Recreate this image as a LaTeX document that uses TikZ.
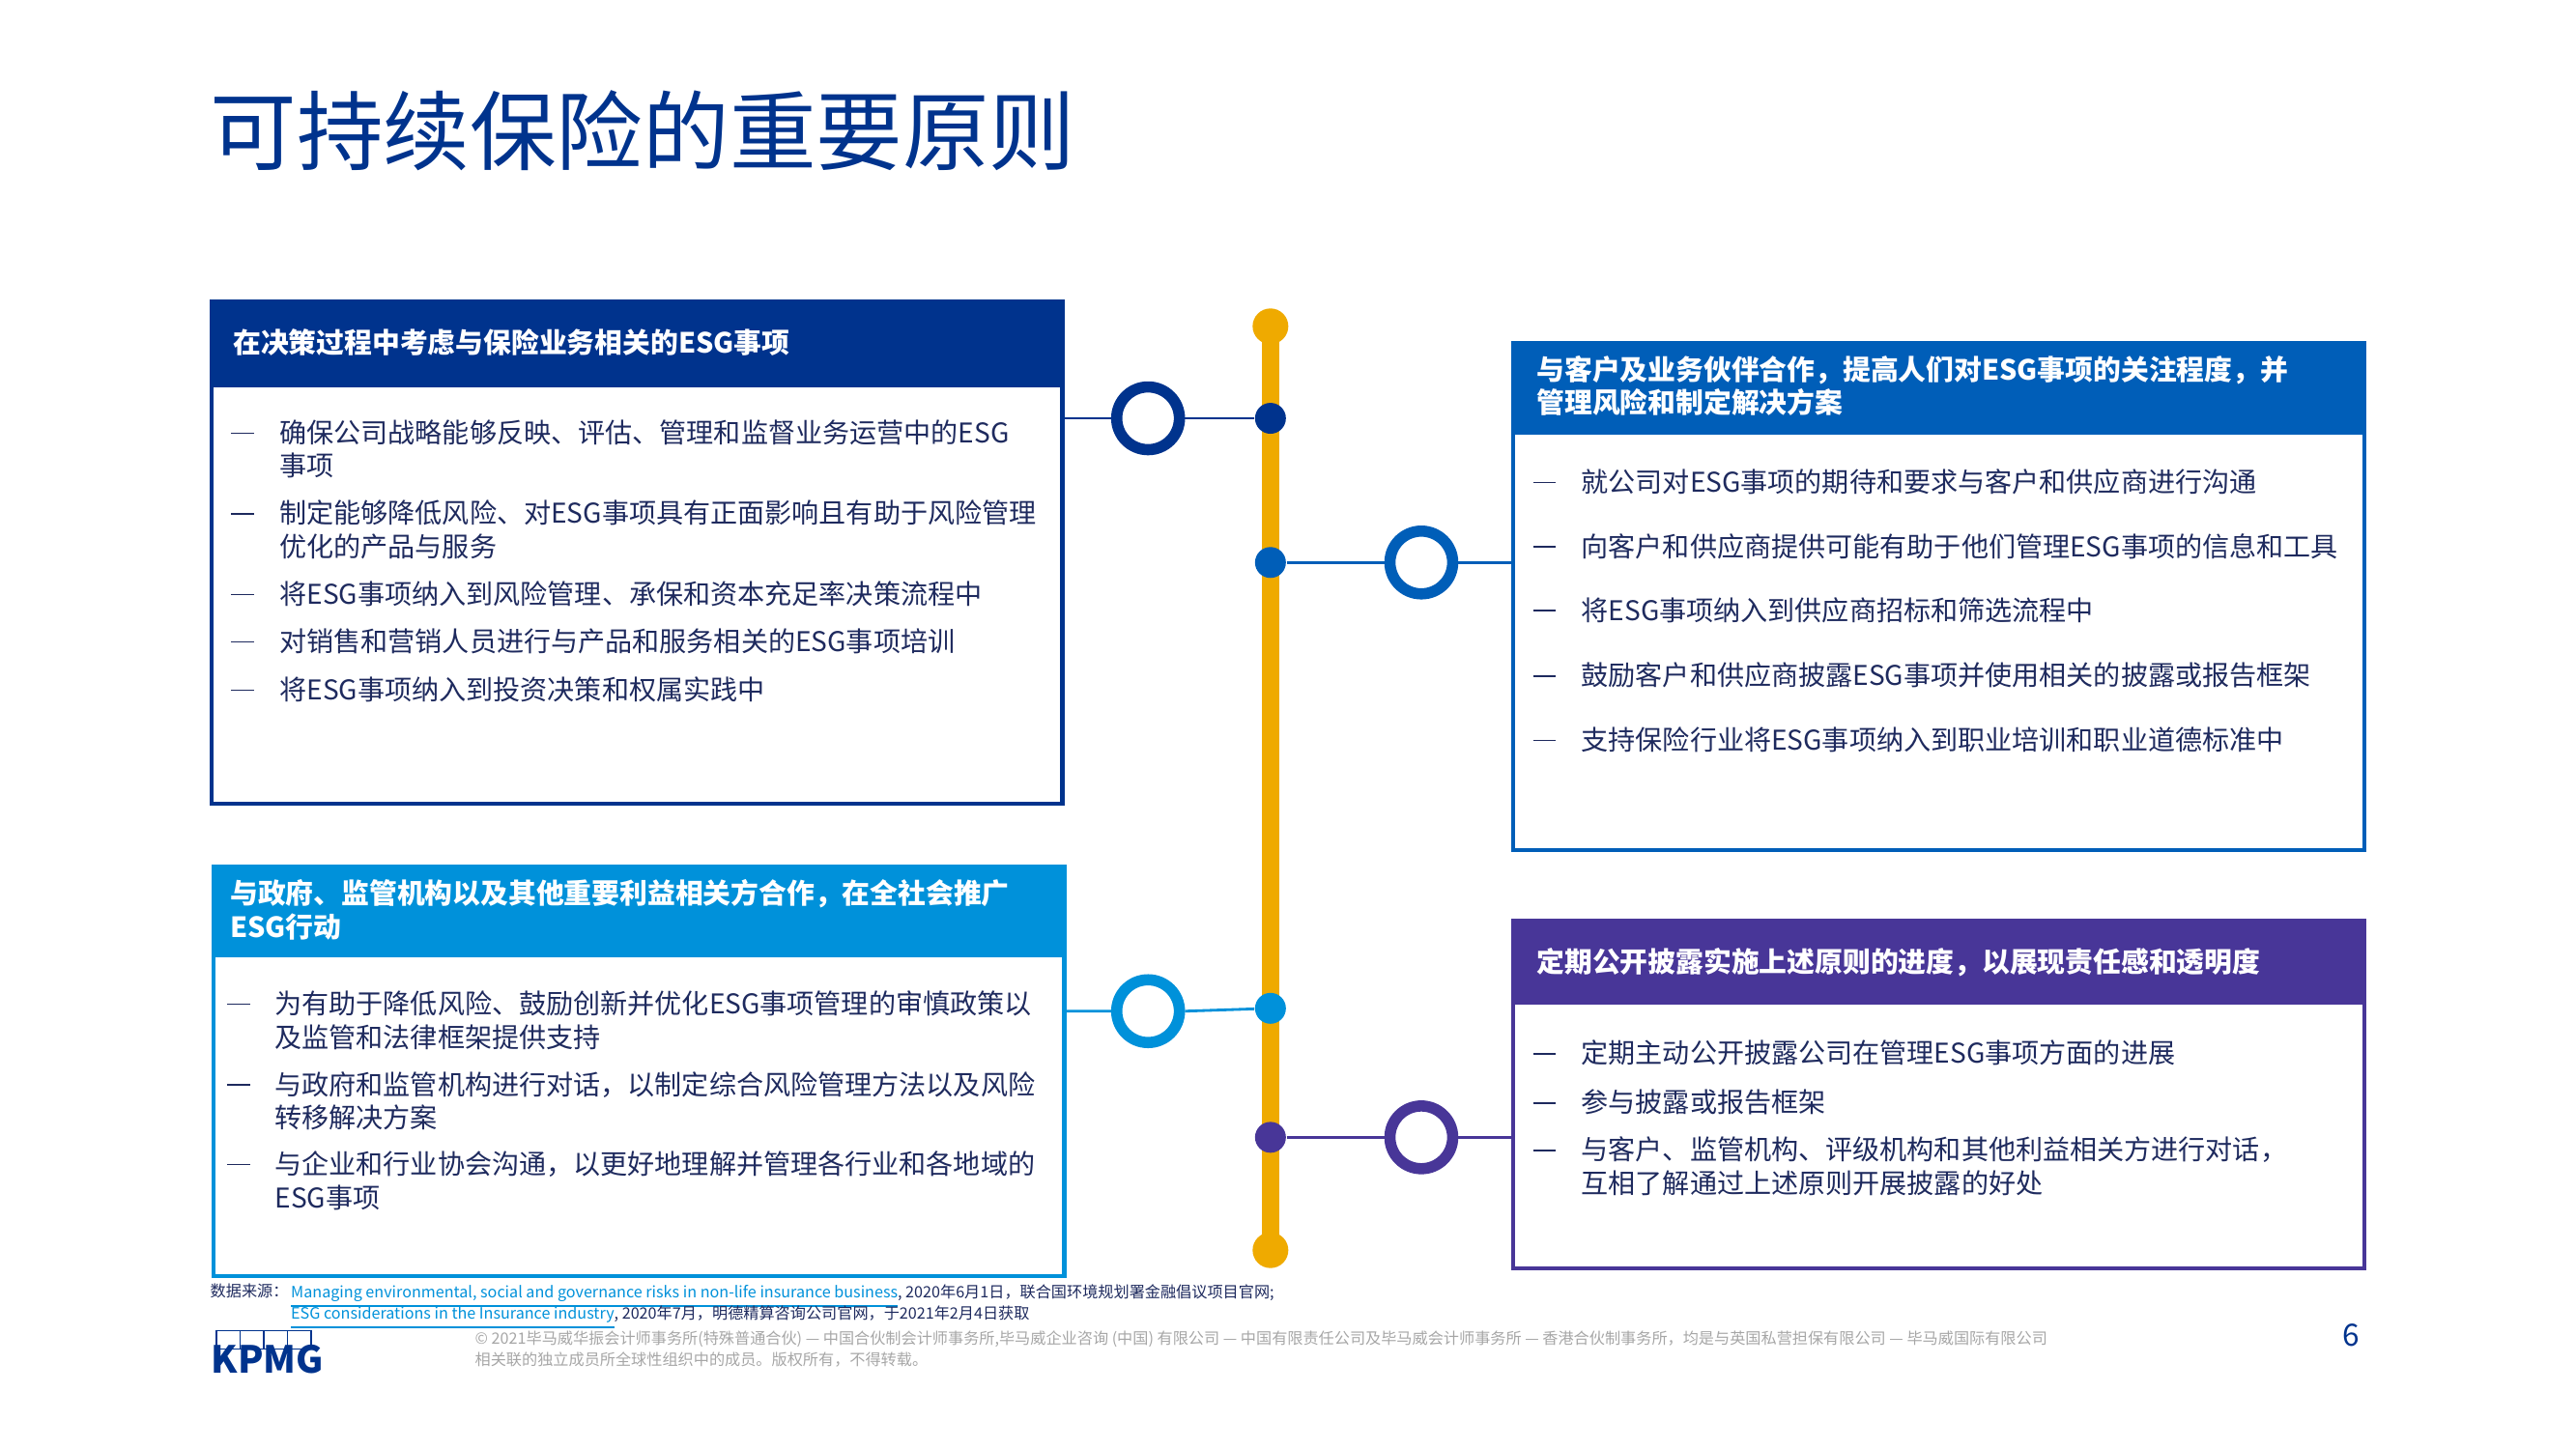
\documentclass[tikz,border=0pt]{standalone}
\usepackage{fontspec}
\setmainfont{Noto Sans CJK SC}
\usetikzlibrary{positioning}
\definecolor{kdark}{HTML}{00338D}
\definecolor{kmid}{HTML}{005EB8}
\definecolor{klight}{HTML}{0091DA}
\definecolor{kpurple}{HTML}{483698}
\definecolor{korange}{HTML}{EFAA00}
\definecolor{ktext}{HTML}{1E2A5E}
\newcommand{\footfont}{\fontsize{4.6}{6.3}\selectfont\lineskiplimit=-10pt\relax\lineskip=0pt\relax}
\tikzset{
  panel/.style={draw=#1, line width=1.2pt, minimum width=8.81cm, inner sep=0pt},
  head/.style={fill=#1, text=white, anchor=north west, minimum width=8.81cm, inner sep=0pt},
  htext/.style={anchor=west, text=white, font=\fontsize{8.2}{9.8}\selectfont\bfseries, align=left, inner sep=0pt},
  item/.style={anchor=north west, text=ktext, font=\fontsize{8}{9.8}\selectfont, align=left, inner sep=0pt},
  bullet/.style={anchor=north west, text=ktext, font=\fontsize{8}{9.8}\selectfont, inner sep=0pt},
  ring/.style={circle, draw=#1, line width=3.3pt, fill=white, minimum size=0.65cm, inner sep=0pt},
  dot/.style={circle, fill=#1, minimum size=0.32cm, inner sep=0pt},
  link/.style={draw=#1, line width=0.8pt},
  foot/.style={anchor=north west, font=\footfont, align=left, inner sep=0pt},
}
\newcommand{\dashmark}{\vphantom{事}\rule[0.32em]{0.85em}{0.5pt}}
\begin{document}
\begin{tikzpicture}[x=0.00982cm, y=-0.00982cm]
\useasboundingbox (0,0) rectangle (2715,1527);
% title
\node[anchor=west, text=kdark, font=\fontsize{25.5}{28}\selectfont, inner sep=0pt] (title) at (221,138) {可持续保险的重要原则};

% timeline
\draw[korange, line width=5pt] (1339,344) -- (1339,1318);
\node[dot=korange, minimum size=0.37cm] (top) at (1339,344) {};
\node[dot=korange, minimum size=0.37cm] (bottom) at (1339,1318) {};
\node[dot=kdark] (d1) at (1339,441) {};
\node[dot=kmid] (d2) at (1339,593) {};
\node[dot=klight] (d3) at (1339,1063) {};
\node[dot=kpurple] (d4) at (1339,1199) {};

% panels
\node[panel=kdark, minimum height=5.2cm, anchor=north west] (box1) at (221,316) {};
\node[head=kdark, minimum height=0.9cm] (h1) at (box1.north west) {};
\node[htext] (ht1) at (245,361) {在决策过程中考虑与保险业务相关的ESG事项};

\node[panel=klight, minimum height=4.25cm, anchor=north west] (box2) at (223,911) {};
\node[head=klight, minimum height=0.96cm] (h2) at (box2.north west) {};
\node[htext] (ht2) at (242,959) {与政府、监管机构以及其他重要利益相关方合作，在全社会推广\\ESG行动};

\node[panel=kmid, minimum height=5.26cm, anchor=north west] (box3) at (1593,359) {};
\node[head=kmid, minimum height=0.97cm] (h3) at (box3.north west) {};
\node[htext] (ht3) at (1619,407) {与客户及业务伙伴合作，提高人们对ESG事项的关注程度，并\\管理风险和制定解决方案};

\node[panel=kpurple, minimum height=3.61cm, anchor=north west] (box4) at (1593,968) {};
\node[head=kpurple, minimum height=0.89cm] (h4) at (box4.north west) {};
\node[htext] (ht4) at (1619,1014) {定期公开披露实施上述原则的进度，以展现责任感和透明度};

% rings and links
\node[ring=kdark] (r1) at (1210,441) {};
\node[ring=kmid] (r2) at (1498,593) {};
\node[ring=klight] (r3) at (1210,1066) {};
\node[ring=kpurple] (r4) at (1498,1199) {};
\draw[link=kdark] (box1.east |- r1) -- (r1.west) (r1.east) -- (d1);
\draw[link=kmid] (d2) -- (r2.west) (r2.east) -- (box3.west |- r2);
\draw[link=klight] (box2.east |- r3) -- (r3.west) (r3.east) -- (d3);
\draw[link=kpurple] (d4) -- (r4.west) (r4.east) -- (box4.west |- r4);

% items, box 1
\foreach \y/\t in {442/{确保公司战略能够反映、评估、管理和监督业务运营中的ESG\\事项},
                   527/{制定能够降低风险、对ESG事项具有正面影响且有助于风险管理\\优化的产品与服务},
                   612/{将ESG事项纳入到风险管理、承保和资本充足率决策流程中},
                   662/{对销售和营销人员进行与产品和服务相关的ESG事项培训},
                   713/{将ESG事项纳入到投资决策和权属实践中}}{
  \node[bullet] at (243,\y) {\dashmark};
  \node[item] at (294,\y) {\t};
}
% items, box 2
\foreach \y/\t in {1044/{为有助于降低风险、鼓励创新并优化ESG事项管理的审慎政策以\\及监管和法律框架提供支持},
                   1129/{与政府和监管机构进行对话，以制定综合风险管理方法以及风险\\转移解决方案},
                   1213/{与企业和行业协会沟通，以更好地理解并管理各行业和各地域的\\ESG事项}}{
  \node[bullet] at (239,\y) {\dashmark};
  \node[item] at (289,\y) {\t};
}
% items, box 3
\foreach \y/\t in {494/{就公司对ESG事项的期待和要求与客户和供应商进行沟通},
                   562/{向客户和供应商提供可能有助于他们管理ESG事项的信息和工具},
                   629/{将ESG事项纳入到供应商招标和筛选流程中},
                   698/{鼓励客户和供应商披露ESG事项并使用相关的披露或报告框架},
                   766/{支持保险行业将ESG事项纳入到职业培训和职业道德标准中}}{
  \node[bullet] at (1615,\y) {\dashmark};
  \node[item] at (1666,\y) {\t};
}
% items, box 4
\foreach \y/\t in {1096/{定期主动公开披露公司在管理ESG事项方面的进展},
                   1148/{参与披露或报告框架},
                   1198/{与客户、监管机构、评级机构和其他利益相关方进行对话，\\互相了解通过上述原则开展披露的好处}}{
  \node[bullet] at (1615,\y) {\dashmark};
  \node[item] at (1666,\y) {\t};
}

% footer
\node[foot, text=ktext] (src) at (221,1353) {数据来源：};
\node[foot, text=ktext] (srctext) at (306,1353) {\textcolor{klight}{\underline{Managing environmental, social and governance risks in non-life insurance business}}, 2020年6月1日，联合国环境规划署金融倡议项目官网;\\\textcolor{klight}{\underline{ESG considerations in the Insurance industry}}, 2020年7月，明德精算咨询公司官网，于2021年2月4日获取};
\node[foot, text=gray!70] (copy) at (500,1402) {© 2021毕马威华振会计师事务所(特殊普通合伙) — 中国合伙制会计师事务所,毕马威企业咨询 (中国) 有限公司 — 中国有限责任公司及毕马威会计师事务所 — 香港合伙制事务所，均是与英国私营担保有限公司 — 毕马威国际有限公司\\相关联的独立成员所全球性组织中的成员。版权所有，不得转载。};
\foreach \i in {0,1,2,3}
  \draw[kdark, line width=0.4pt] (228+\i*25,1403) rectangle ++(25,19);
\node[anchor=north west, text=kdark, font=\fontsize{11}{11}\selectfont\bfseries\itshape, inner sep=0pt] (logo) at (222,1417) {KPMG};
\node[anchor=center, text=kdark, font=\fontsize{9}{10}\selectfont, inner sep=0pt] (page) at (2478,1408) {6};
\end{tikzpicture}
\end{document}
